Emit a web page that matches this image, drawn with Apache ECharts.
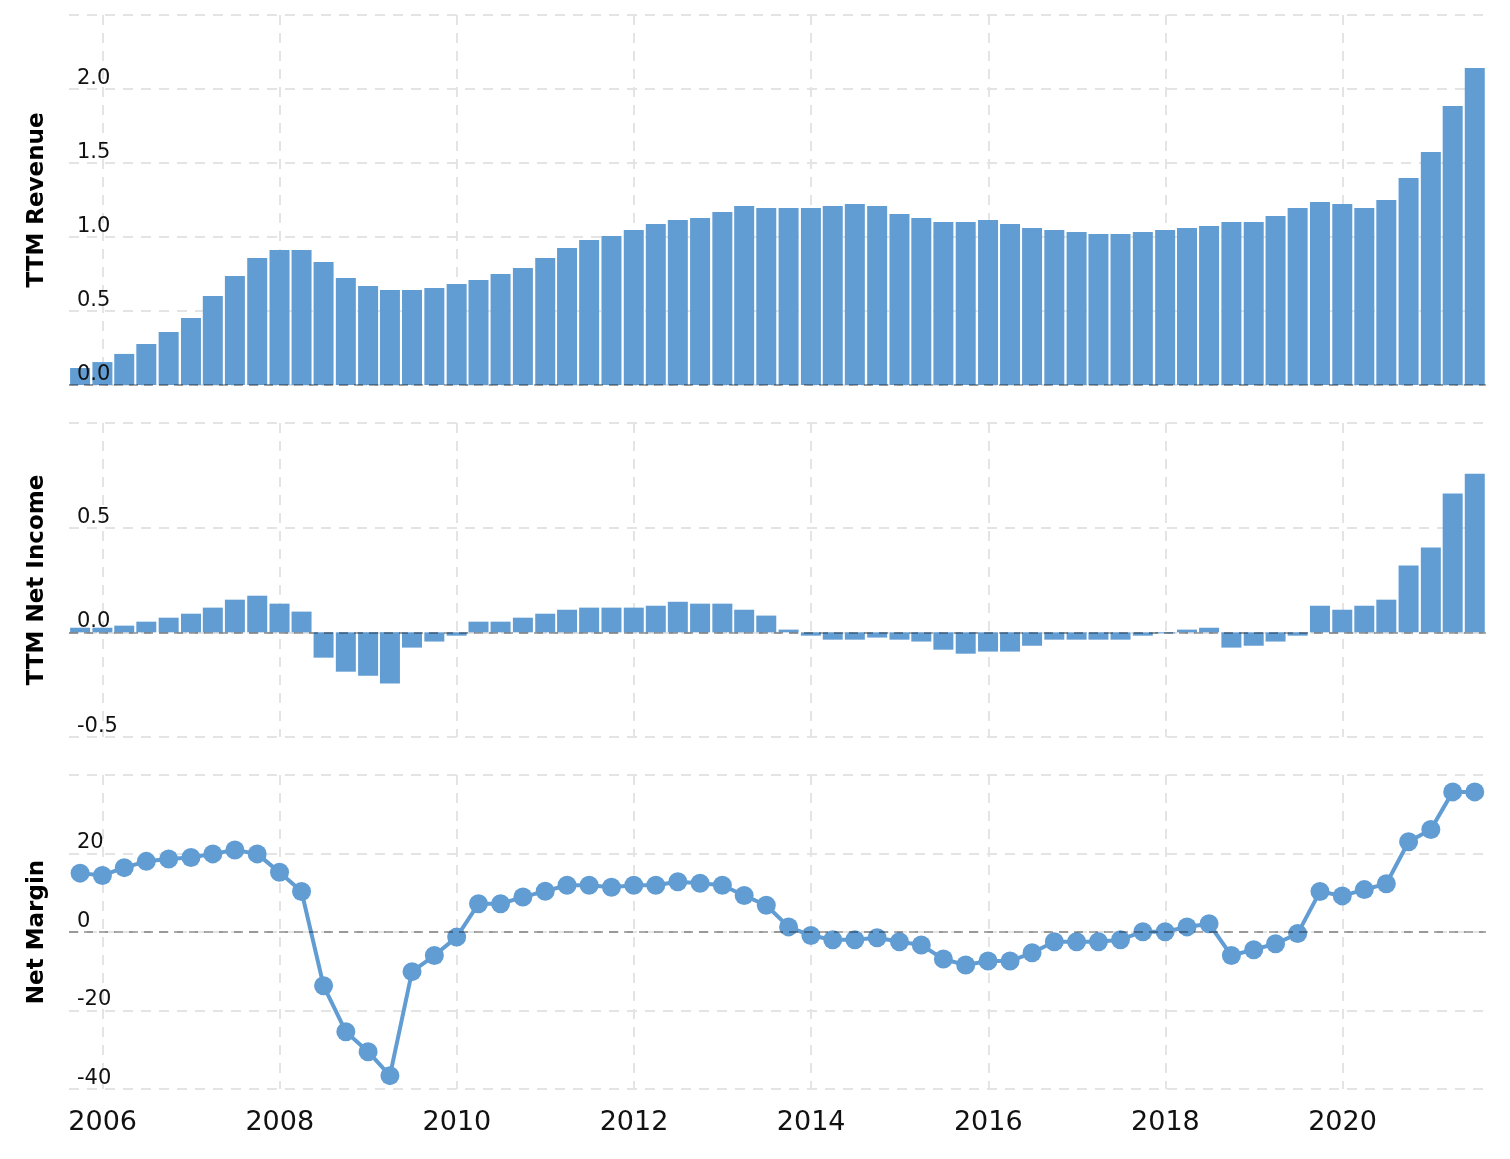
<!DOCTYPE html>
<html>
<head>
<meta charset="utf-8">
<script src="https://cdn.jsdelivr.net/npm/echarts@6/dist/echarts.min.js"></script>
<style>
html,body{margin:0;padding:0;background:#fff;}
#chart{width:1510px;height:1159px;}
</style>
</head>
<body>
<div id="chart"></div>
<script>
// Quarter-end dates
const quarters = [
 '2005-09-30','2005-12-31',
 '2006-03-31','2006-06-30','2006-09-30','2006-12-31',
 '2007-03-31','2007-06-30','2007-09-30','2007-12-31',
 '2008-03-31','2008-06-30','2008-09-30','2008-12-31',
 '2009-03-31','2009-06-30','2009-09-30','2009-12-31',
 '2010-03-31','2010-06-30','2010-09-30','2010-12-31',
 '2011-03-31','2011-06-30','2011-09-30','2011-12-31',
 '2012-03-31','2012-06-30','2012-09-30','2012-12-31',
 '2013-03-31','2013-06-30','2013-09-30','2013-12-31',
 '2014-03-31','2014-06-30','2014-09-30','2014-12-31',
 '2015-03-31','2015-06-30','2015-09-30','2015-12-31',
 '2016-03-31','2016-06-30','2016-09-30','2016-12-31',
 '2017-03-31','2017-06-30','2017-09-30','2017-12-31',
 '2018-03-31','2018-06-30','2018-09-30','2018-12-31',
 '2019-03-31','2019-06-30','2019-09-30','2019-12-31',
 '2020-03-31','2020-06-30','2020-09-30','2020-12-31',
 '2021-03-31','2021-06-30'
];

// TTM Revenue
const revenue = [
 0.115,0.155,0.21,0.277,0.358,0.453,0.601,0.736,0.858,0.912,
 0.912,0.831,0.723,0.669,0.642,0.642,0.655,0.682,0.709,0.75,
 0.79,0.858,0.926,0.98,1.007,1.047,1.088,1.115,1.128,1.169,
 1.209,1.196,1.196,1.196,1.209,1.223,1.209,1.155,1.128,1.101,
 1.101,1.115,1.088,1.061,1.047,1.034,1.02,1.02,1.034,1.047,
 1.061,1.074,1.101,1.101,1.142,1.196,1.236,1.223,1.196,1.25,
 1.399,1.574,1.885,2.142
];

// TTM Net Income
const netIncome = [
 0.022,0.022,0.032,0.051,0.070,0.089,0.118,0.156,0.175,0.137,
 0.099,-0.121,-0.188,-0.207,-0.245,-0.073,-0.044,-0.016,0.051,0.051,
 0.070,0.089,0.108,0.118,0.118,0.118,0.127,0.146,0.137,0.137,
 0.108,0.080,0.013,-0.016,-0.035,-0.035,-0.025,-0.035,-0.044,-0.083,
 -0.102,-0.092,-0.092,-0.064,-0.035,-0.035,-0.035,-0.035,-0.016,-0.005,
 0.013,0.022,-0.073,-0.064,-0.044,-0.016,0.127,0.108,0.127,0.156,
 0.319,0.405,0.663,0.758
];

// Net Margin (%)
const netMargin = [
 15.0,14.4,16.4,18.0,18.6,19.0,19.9,20.9,19.9,15.2,
 10.3,-13.7,-25.4,-30.5,-36.6,-10.1,-6.0,-1.3,7.2,7.2,
 8.9,10.4,11.9,11.9,11.4,11.9,11.9,12.8,12.4,11.9,
 9.3,6.8,1.3,-0.9,-1.96,-1.96,-1.45,-2.5,-3.3,-6.9,
 -8.4,-7.4,-7.4,-5.3,-2.5,-2.5,-2.5,-1.96,0.08,0.08,
 1.3,2.1,-6.0,-4.5,-3.0,-0.4,10.3,9.2,10.8,12.3,
 23.0,26.1,35.7,35.7
];

// Axis tick labels
const yearTicks = [2006,2008,2010,2012,2014,2016,2018,2020];
const revenueTicks = {min:0, max:2.5, interval:0.5};
const incomeTicks = {min:-0.5, max:1.0, interval:0.5};
const marginTicks = {min:-40, max:40, interval:20};
const axisTitles = ['TTM Revenue','TTM Net Income','Net Margin'];

function toYear(s){
  const p = s.split('-').map(Number);
  const t = Date.UTC(p[0],p[1]-1,p[2]), a = Date.UTC(p[0],0,1), b = Date.UTC(p[0]+1,0,1);
  return p[0] + (t-a)/(b-a);
}
const xs = quarters.map(toYear);
const pair = arr => arr.map((v,i)=>[xs[i], v]);

const BLUE = '#619dd3';
const GRID_COLOR = '#e4e4e4';
const FONT = 'DejaVu Sans';
const XMIN = 2005.62, XMAX = 2021.62;

const grids = [
  {left:69, right:24, top:15, height:370},
  {left:69, right:24, top:423, height:314},
  {left:69, right:24, top:775, height:314}
];

function xAxis(i, showLabel){
  return {
    type:'value', gridIndex:i, min:XMIN, max:XMAX,
    axisLine:{show:false},
    axisTick:{show:false, customValues:yearTicks},
    axisLabel:{show:showLabel, customValues:yearTicks, formatter:v=>String(Math.round(v)),
      fontFamily:FONT, fontSize:27, color:'#111', margin:20},
    splitLine:{show:true, lineStyle:{color:GRID_COLOR, width:2, type:[10,8]}}
  };
}
// grid axis: split lines + title (drawn below the bars)
function yGridAxis(i, t){
  return {
    type:'value', gridIndex:i, min:t.min, max:t.max, interval:t.interval, position:'left',
    axisLine:{show:false}, axisTick:{show:false}, axisLabel:{show:false},
    splitLine:{show:true, lineStyle:{color:GRID_COLOR, width:2, type:[10,8]}},
    name:axisTitles[i], nameLocation:'middle', nameRotate:90, nameGap:20,
    nameTextStyle:{fontFamily:FONT, fontWeight:'bold', fontSize:23, color:'#000'}
  };
}
// label axis: tick labels drawn above the bars
function yLabelAxis(i, t, decimals){
  return {
    type:'value', gridIndex:i, min:t.min, max:t.max, interval:t.interval, position:'left',
    z:10,
    axisLine:{show:false}, axisTick:{show:false}, splitLine:{show:false},
    axisLabel:{inside:true, margin:8, verticalAlign:'bottom', showMaxLabel:false,
      formatter:v=>v.toFixed(decimals), fontFamily:FONT, fontSize:21, color:'#111'}
  };
}
const zeroLine = {
  silent:true, symbol:'none', animation:false,
  label:{show:false},
  lineStyle:{color:'rgba(0,0,0,0.33)', width:2, type:[9,6]},
  data:[{yAxis:0}]
};

const option = {
  animation:false,
  backgroundColor:'#fff',
  grid:grids,
  xAxis:[xAxis(0,false), xAxis(1,false), xAxis(2,true)],
  yAxis:[yGridAxis(0,revenueTicks), yGridAxis(1,incomeTicks), yGridAxis(2,marginTicks),
         yLabelAxis(0,revenueTicks,1), yLabelAxis(1,incomeTicks,1), yLabelAxis(2,marginTicks,0)],
  series:[
    {type:'bar', xAxisIndex:0, yAxisIndex:0, data:pair(revenue), barWidth:20,
     itemStyle:{color:BLUE}, markLine:zeroLine},
    {type:'bar', xAxisIndex:1, yAxisIndex:1, data:pair(netIncome), barWidth:20,
     itemStyle:{color:BLUE}, markLine:zeroLine},
    {type:'line', xAxisIndex:2, yAxisIndex:2, data:pair(netMargin),
     symbol:'circle', symbolSize:19, lineStyle:{color:BLUE, width:4},
     itemStyle:{color:BLUE}, markLine:zeroLine}
  ]
};
echarts.init(document.getElementById('chart')).setOption(option);
</script>
</body>
</html>
